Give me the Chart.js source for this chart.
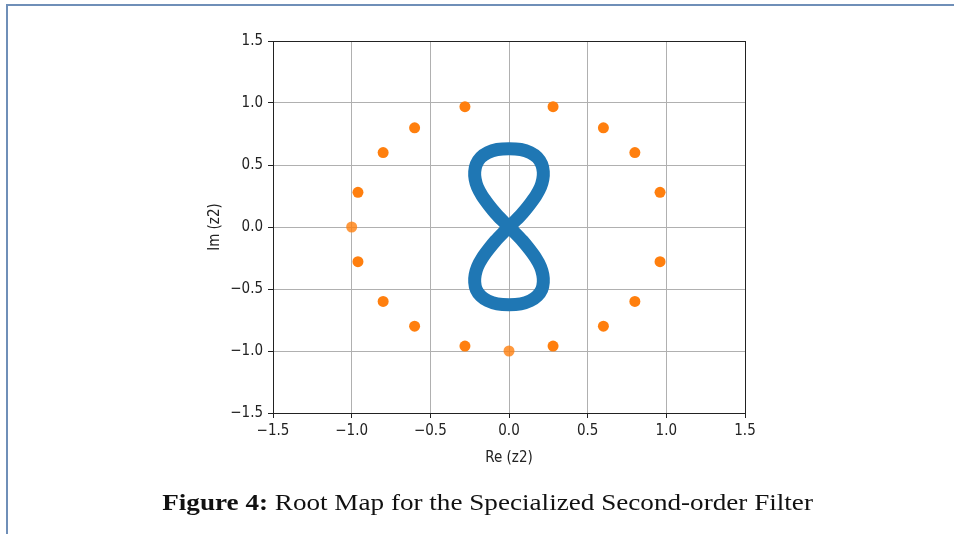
<!DOCTYPE html>
<html>
<head>
<meta charset="utf-8">
<script src="https://cdn.jsdelivr.net/npm/chart.js@4.4.0/dist/chart.umd.min.js"></script>
<style>
    html, body { margin: 0; padding: 0; background: #fff; }
    body { width: 954px; height: 534px; overflow: hidden; position: relative; }
    .frame {
        position: absolute; left: 6px; top: 4px; width: 960px; height: 540px;
        border-top: 2px solid #6f8fb8; border-left: 2px solid #6f8fb8;
    }
    #rootMap { position: absolute; left: 0; top: 0; }
    .caption {
        position: absolute; left: 0; width: 975px; top: 490px;
        text-align: center; font-family: "Liberation Serif", serif; font-size: 23px; color: #111;
        white-space: nowrap;
        transform: scaleX(1.18); transform-origin: 487px 0;
    }
</style>
</head>
<body>
<div class="frame"></div>
<canvas id="rootMap" width="954" height="534"></canvas>
<div class="caption"><b>Figure 4:</b> Root Map for the Specialized Second-order Filter</div>

<script>
// tick labels (both axes)
const xTicks = [-1.5, -1.0, -0.5, 0.0, 0.5, 1.0, 1.5];
const yTicks = [-1.5, -1.0, -0.5, 0.0, 0.5, 1.0, 1.5];

// orange roots
const rootsRe = [-0.28, 0.28, -0.60, 0.60, -0.80, 0.80, -0.96, 0.96, -1.00, -0.96, 0.96, -0.80, 0.80, -0.60, 0.60, -0.28, 0.28, 0.00];
const rootsIm = [0.97, 0.97, 0.80, 0.80, 0.60, 0.60, 0.28, 0.28, 0.00, -0.28, -0.28, -0.60, -0.60, -0.80, -0.80, -0.96, -0.96, -1.00];

// blue figure-eight, traced from the origin round both lobes
const curveRe = [
    0.00, 0.04, 0.085, 0.13, 0.17, 0.20, 0.215, 0.218, 0.208, 0.18, 0.135, 0.075, 0.00,
    -0.075, -0.135, -0.18, -0.208, -0.218, -0.215, -0.20, -0.17, -0.13, -0.085, -0.04, 0.00,
    0.04, 0.085, 0.13, 0.17, 0.20, 0.215, 0.218, 0.208, 0.18, 0.135, 0.075, 0.00,
    -0.075, -0.135, -0.18, -0.208, -0.218, -0.215, -0.20, -0.17, -0.13, -0.085, -0.04, 0.00
];
const curveIm = [
    0.00, 0.05, 0.11, 0.18, 0.25, 0.32, 0.385, 0.445, 0.505, 0.56, 0.60, 0.625, 0.632,
    0.625, 0.60, 0.56, 0.505, 0.445, 0.385, 0.32, 0.25, 0.18, 0.11, 0.05, 0.00,
    -0.05, -0.11, -0.18, -0.25, -0.32, -0.385, -0.445, -0.505, -0.555, -0.595, -0.62, -0.627,
    -0.62, -0.595, -0.555, -0.505, -0.445, -0.385, -0.32, -0.25, -0.18, -0.11, -0.05, 0.00
];

const tickFont = { family: '"DejaVu Sans Condensed", "DejaVu Sans", sans-serif', size: 15 };
const titleFont = { family: '"DejaVu Sans Condensed", "DejaVu Sans", sans-serif', size: 15 };

function fmt(v) {
    return v.toFixed(1).replace('-', '\u2212');
}

// full box round the plot, like matplotlib spines
const frameBox = {
    id: 'frameBox',
    afterDatasetsDraw(chart) {
        const a = chart.chartArea;
        const ctx = chart.ctx;
        ctx.save();
        ctx.strokeStyle = '#222';
        ctx.lineWidth = 1;
        ctx.strokeRect(Math.round(a.left) + 0.5, Math.round(a.top) + 0.5,
            Math.round(a.right - a.left), Math.round(a.bottom - a.top));
        ctx.restore();
    }
};

const ctx = document.getElementById('rootMap').getContext('2d');
new Chart(ctx, {
    type: 'scatter',
    data: {
        datasets: [
            {
                label: 'z2',
                data: curveRe.map((x, i) => ({ x: x, y: curveIm[i] })),
                showLine: true,
                borderColor: '#1f77b4',
                borderWidth: 13,
                borderCapStyle: 'round',
                borderJoinStyle: 'round',
                tension: 0.3,
                pointRadius: 0,
                fill: false
            },
            {
                label: 'roots',
                data: rootsRe.map((x, i) => ({ x: x, y: rootsIm[i] })),
                backgroundColor: rootsRe.map((x, i) => (x === -1 || rootsIm[i] === -1) ? 'rgba(255,127,14,0.8)' : '#ff7f0e'),
                borderWidth: 0,
                pointRadius: 5.5
            }
        ]
    },
    options: {
        responsive: false,
        animation: false,
        layout: { padding: { left: 203, right: 209, top: 41, bottom: 61 } },
        plugins: {
            legend: { display: false },
            tooltip: { enabled: false }
        },
        scales: {
            x: {
                type: 'linear',
                min: -1.5,
                max: 1.5,
                afterBuildTicks: s => { s.ticks = xTicks.map(v => ({ value: v })); },
                afterFit: s => { s.height = 60; },
                ticks: { callback: v => fmt(v), font: tickFont, color: '#222', padding: 4, maxRotation: 0, autoSkip: false },
                grid: { color: '#b0b0b0', lineWidth: 1, tickColor: '#222', tickLength: 5 },
                border: { color: '#222' },
                title: { display: true, text: 'Re (z2)', font: titleFont, color: '#222', padding: { top: 0, bottom: 6 } }
            },
            y: {
                type: 'linear',
                min: -1.5,
                max: 1.5,
                afterBuildTicks: s => { s.ticks = yTicks.map(v => ({ value: v })); },
                afterFit: s => { s.width = 70; },
                ticks: { callback: v => fmt(v), font: tickFont, color: '#222', padding: 5, autoSkip: false },
                grid: { color: '#b0b0b0', lineWidth: 1, tickColor: '#222', tickLength: 5 },
                border: { color: '#222' },
                title: { display: true, text: 'Im (z2)', font: titleFont, color: '#222', padding: { top: 3, bottom: 0 } }
            }
        }
    },
    plugins: [frameBox]
});
</script>
</body>
</html>
